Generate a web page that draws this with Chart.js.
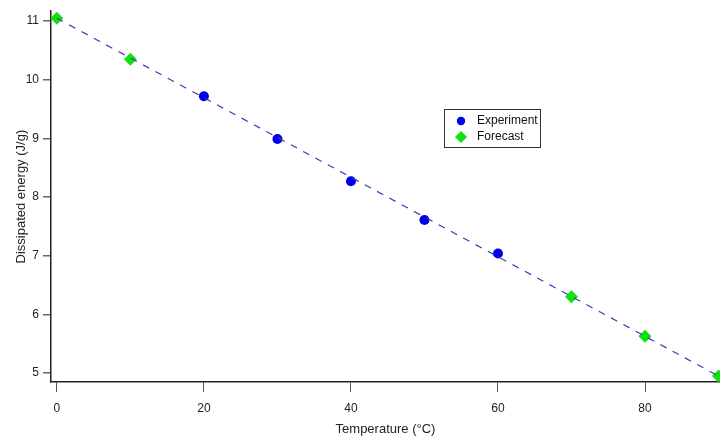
<!DOCTYPE html>
<html>
<head>
<meta charset="utf-8">
<script src="https://cdn.jsdelivr.net/npm/chart.js@4"></script>
<style>
  html, body { margin: 0; padding: 0; background: #fff; }
  #c { display: block; }
</style>
</head>
<body>
<canvas id="c" width="720" height="438"></canvas>
<script>
// ---- Data ----
const experimentTemps  = [20, 30, 40, 50, 60];
const experimentEnergy = [9.72, 8.99, 8.27, 7.61, 7.04];
const forecastTemps    = [0, 10, 70, 80, 90];
const forecastEnergy   = [11.05, 10.35, 6.30, 5.63, 4.95];
const fitTemps         = [0, 90];
const fitEnergy        = [11.05, 4.95];
const xTickValues      = [0, 20, 40, 60, 80];
const yTickValues      = [5, 6, 7, 8, 9, 10, 11];
const seriesLabels     = ['Experiment', 'Forecast'];

const FONT = "'Liberation Sans', Arial, sans-serif";
const toPts = (xs, ys) => xs.map((x, i) => ({ x: x, y: ys[i] }));

const legendPlugin = {
  id: 'boxLegend',
  afterDraw(chart) {
    const ctx = chart.ctx;
    const x0 = 444, y0 = 109, w = 96, h = 38;
    ctx.save();
    ctx.fillStyle = '#fff';
    ctx.fillRect(x0, y0, w, h);
    ctx.strokeStyle = '#333';
    ctx.lineWidth = 1;
    ctx.strokeRect(x0 + 0.5, y0 + 0.5, w, h);
    const items = chart.data.datasets.filter(d => seriesLabels.includes(d.label));
    items.forEach((ds, i) => {
      const cx = x0 + 17, cy = y0 + 12 + i * 16;
      ctx.fillStyle = ds.backgroundColor;
      ctx.beginPath();
      if (ds.pointStyle === 'circle') {
        ctx.arc(cx, cy, 4.2, 0, Math.PI * 2);
      } else {
        const r = 6;
        ctx.moveTo(cx, cy - r);
        ctx.lineTo(cx + r, cy);
        ctx.lineTo(cx, cy + r);
        ctx.lineTo(cx - r, cy);
        ctx.closePath();
      }
      ctx.fill();
      ctx.fillStyle = '#111';
      ctx.font = '12px ' + FONT;
      ctx.textBaseline = 'middle';
      ctx.textAlign = 'left';
      ctx.fillText(ds.label, x0 + 33, cy);
    });
    ctx.restore();
  }
};

const bgPlugin = {
  id: 'bg',
  beforeDraw(chart) {
    const ctx = chart.ctx;
    ctx.save();
    ctx.fillStyle = '#fff';
    ctx.fillRect(0, 0, chart.width, chart.height);
    ctx.restore();
  }
};

new Chart(document.getElementById('c'), {
  type: 'scatter',
  data: {
    datasets: [
      {
        label: 'fit',
        data: toPts(fitTemps, fitEnergy),
        showLine: true,
        borderColor: '#3c3cb4',
        borderWidth: 1.2,
        borderDash: [7, 7],
        pointRadius: 0,
        fill: false,
        clip: false
      },
      {
        label: seriesLabels[0],
        data: toPts(experimentTemps, experimentEnergy),
        pointStyle: 'circle',
        pointRadius: 5,
        pointHoverRadius: 5,
        backgroundColor: '#0000e6',
        borderColor: '#0000e6',
        borderWidth: 0,
        clip: false
      },
      {
        label: seriesLabels[1],
        data: toPts(forecastTemps, forecastEnergy),
        pointStyle: 'rectRot',
        pointRadius: 6.5,
        pointHoverRadius: 6.5,
        backgroundColor: '#11e011',
        borderColor: '#11e011',
        borderWidth: 0,
        clip: false
      }
    ]
  },
  options: {
    responsive: false,
    animation: false,
    devicePixelRatio: 1,
    layout: { autoPadding: false, padding: { top: 8, right: 0, bottom: 0, left: 0 } },
    plugins: {
      legend: { display: false },
      tooltip: { enabled: false }
    },
    scales: {
      x: {
        type: 'linear',
        min: -0.8,
        max: 90.2,
        afterBuildTicks: s => { s.ticks = xTickValues.map(v => ({ value: v })); },
        afterFit: s => { s.height = 56; },
        grid: {
          drawOnChartArea: false,
          drawTicks: true,
          tickLength: 10,
          color: '#555',
          lineWidth: 1
        },
        border: { display: true, color: '#222', width: 1.5 },
        ticks: {
          color: '#222',
          padding: 9,
          font: { family: FONT, size: 12 }
        },
        title: {
          display: true,
          text: 'Temperature (°C)',
          color: '#222',
          font: { family: FONT, size: 13 },
          padding: { top: 0, bottom: 1 }
        }
      },
      y: {
        type: 'linear',
        min: 4.848,
        max: 11.17,
        afterBuildTicks: s => { s.ticks = yTickValues.map(v => ({ value: v })); },
        afterFit: s => { s.width = 51; },
        grid: {
          drawOnChartArea: false,
          drawTicks: true,
          tickLength: 8,
          color: '#666',
          lineWidth: 1.5
        },
        border: { display: true, color: '#222', width: 1.5 },
        ticks: {
          color: '#222',
          padding: 4,
          font: { family: FONT, size: 12 }
        },
        title: {
          display: true,
          text: 'Dissipated energy (J/g)',
          color: '#222',
          font: { family: FONT, size: 13 },
          padding: { top: 14, bottom: 0 }
        }
      }
    }
  },
  plugins: [bgPlugin, legendPlugin]
});
</script>
</body>
</html>
